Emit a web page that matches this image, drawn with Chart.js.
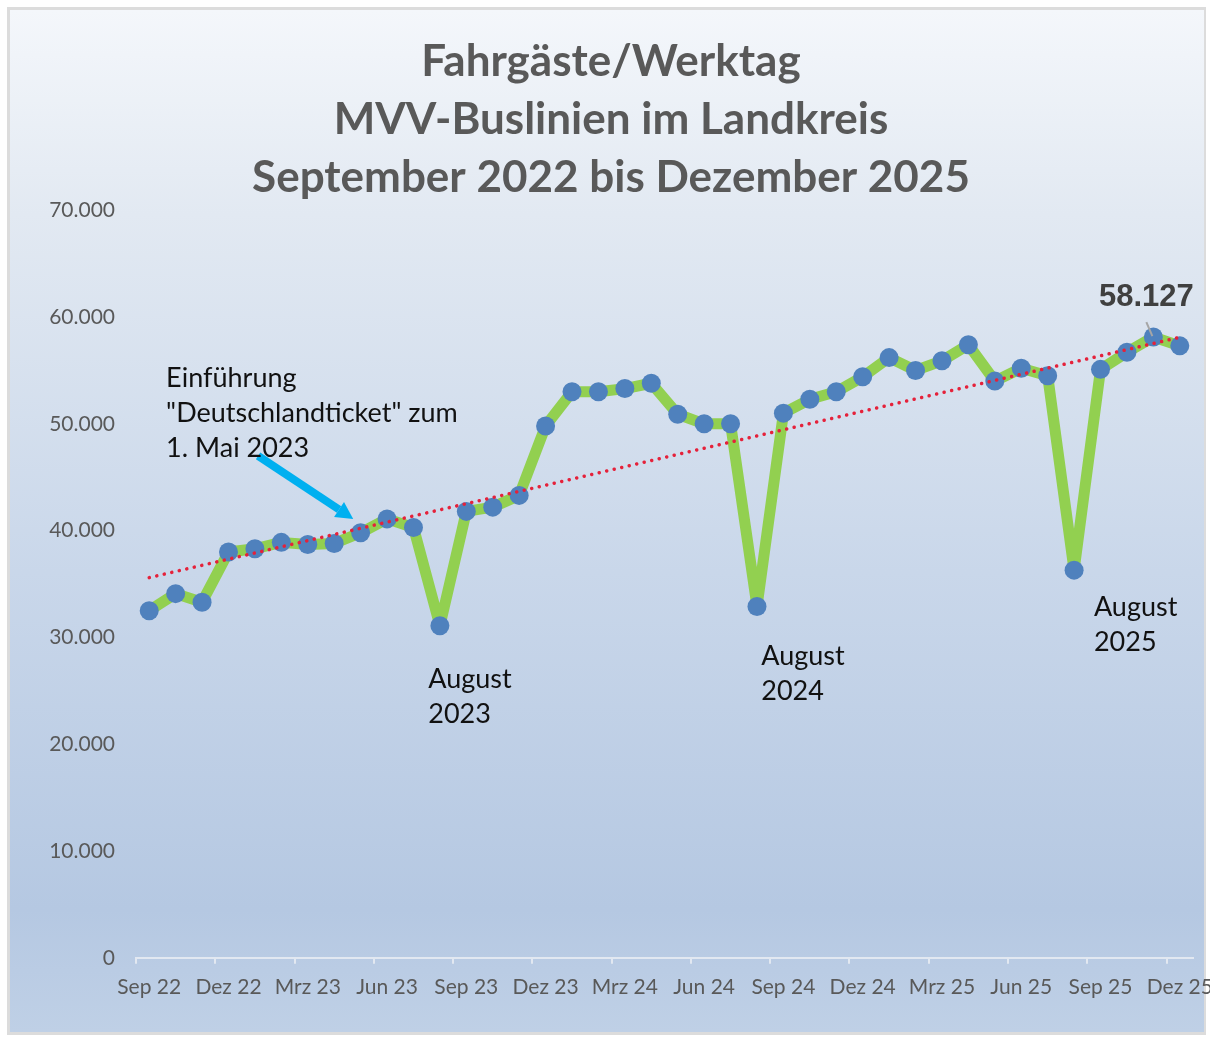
<!DOCTYPE html>
<html>
<head>
<meta charset="utf-8">
<script src="https://cdn.jsdelivr.net/npm/chart.js@4.4.1/dist/chart.umd.min.js"></script>
<style>
  html, body { margin: 0; padding: 0; background: #fff; }
</style>
</head>
<body>
<canvas id="busChart" width="1210" height="1039"></canvas>
<script>
// Monate Sep 22 - Dez 25
var months = [
  "Sep 22", "Okt 22", "Nov 22", "Dez 22", "Jan 23", "Feb 23", "Mrz 23", "Apr 23", "Mai 23", "Jun 23", "Jul 23", "Aug 23",
  "Sep 23", "Okt 23", "Nov 23", "Dez 23", "Jan 24", "Feb 24", "Mrz 24", "Apr 24", "Mai 24", "Jun 24", "Jul 24", "Aug 24",
  "Sep 24", "Okt 24", "Nov 24", "Dez 24", "Jan 25", "Feb 25", "Mrz 25", "Apr 25", "Mai 25", "Jun 25", "Jul 25", "Aug 25",
  "Sep 25", "Okt 25", "Nov 25", "Dez 25"
];

// Fahrgäste pro Werktag
var passengers = [
  32500, 34100, 33300, 38000, 38300, 38900, 38700, 38800, 39800, 41100, 40300, 31100,
  41800, 42200, 43300, 49800, 53000, 53000, 53300, 53800, 50900, 50000, 50000, 32900,
  51000, 52300, 53000, 54400, 56200, 55000, 55900, 57400, 54000, 55200, 54500, 36300,
  55100, 56700, 58127, 57300
];

// Trendlinie: Start- und Endwert
var trendEnds = [35600, 58100];

var yTicks = [0, 10000, 20000, 30000, 40000, 50000, 60000, 70000];

var titleLines = ["Fahrgäste/Werktag", "MVV-Buslinien im Landkreis", "September 2022 bis Dezember 2025"];

var notes = [
  { lines: ["Einführung", "\"Deutschlandticket\" zum", "1. Mai 2023"], idx: 0.64, val: 54300 },
  { lines: ["August", "2023"], idx: 10.56, val: 26100 },
  { lines: ["August", "2024"], idx: 23.16, val: 28200 },
  { lines: ["August", "2025"], idx: 35.75, val: 32800 }
];
// Pfeil (Index / Wert)
var arrowFrom = [4.12, 47000];
var arrowTo = [7.72, 41100];
var labelIndex = 38;

var trendData = passengers.map(function (v, i) {
  if (i === 0) return trendEnds[0];
  if (i === passengers.length - 1) return trendEnds[1];
  return null;
});

function fmt(v) {
  return String(v).replace(/\B(?=(\d{3})+(?!\d))/g, ".");
}

Chart.defaults.font.family = "Lato";

var backgroundPlugin = {
  id: "panelBg",
  beforeDraw: function (chart) {
    var c = chart.ctx;
    c.save();
    c.fillStyle = "#ffffff";
    c.fillRect(0, 0, chart.width, chart.height);
    // Rahmen
    c.fillStyle = "#dcdcdc";
    c.fillRect(7, 7, 1199, 1028);
    var g = c.createLinearGradient(0, 10, 0, 1032);
    g.addColorStop(0, "#f4f7fb");
    g.addColorStop(0.2, "#e2e9f2");
    g.addColorStop(0.55, "#c9d7ea");
    g.addColorStop(0.88, "#b5c8e2");
    g.addColorStop(1, "#bfd0e6");
    c.fillStyle = g;
    c.fillRect(10, 10, 1194, 1022);
    c.restore();
  }
};

var notesPlugin = {
  id: "notes",
  afterDatasetsDraw: function (chart) {
    var c = chart.ctx;
    var xs = chart.scales.x, ys = chart.scales.y;
    var step = xs.getPixelForValue(1) - xs.getPixelForValue(0);
    function px(i) { return xs.getPixelForValue(0) + i * step; }

    c.save();
    // Pfeil
    var x1 = px(arrowFrom[0]), y1 = ys.getPixelForValue(arrowFrom[1]);
    var x2 = px(arrowTo[0]), y2 = ys.getPixelForValue(arrowTo[1]);
    var ang = Math.atan2(y2 - y1, x2 - x1);
    var head = 17;
    c.strokeStyle = "#00b0f0";
    c.fillStyle = "#00b0f0";
    c.lineWidth = 8;
    c.beginPath();
    c.moveTo(x1, y1);
    c.lineTo(x2 - head * Math.cos(ang), y2 - head * Math.sin(ang));
    c.stroke();
    c.beginPath();
    c.moveTo(x2, y2);
    c.lineTo(x2 - head * Math.cos(ang) + 9 * Math.sin(ang), y2 - head * Math.sin(ang) - 9 * Math.cos(ang));
    c.lineTo(x2 - head * Math.cos(ang) - 9 * Math.sin(ang), y2 - head * Math.sin(ang) + 9 * Math.cos(ang));
    c.closePath();
    c.fill();

    // Textnotizen
    c.fillStyle = "#111111";
    c.font = "27px Lato";
    c.textAlign = "left";
    c.textBaseline = "middle";
    notes.forEach(function (n) {
      var x = px(n.idx), y = ys.getPixelForValue(n.val);
      n.lines.forEach(function (t, k) {
        c.fillText(t, x, y + k * 35);
      });
    });

    // Datenbeschriftung
    var pt = chart.getDatasetMeta(1).data[labelIndex];
    c.strokeStyle = "#a6a6a6";
    c.lineWidth = 2;
    c.beginPath();
    c.moveTo(pt.x - 7, pt.y - 15);
    c.lineTo(pt.x - 1, pt.y - 1);
    c.stroke();
    c.fillStyle = "#404040";
    c.font = "bold 31px 'Liberation Sans'";
    c.textAlign = "center";
    c.fillText(fmt(passengers[labelIndex]), pt.x - 7, pt.y - 40);
    c.restore();
  }
};

var ctx = document.getElementById("busChart").getContext("2d");
var busChart = new Chart(ctx, {
  type: "line",
  data: {
    labels: months,
    datasets: [{
      label: "Trend",
      data: trendData,
      spanGaps: true,
      borderColor: "#e5213a",
      borderWidth: 3.5,
      borderDash: [0.1, 7.6],
      borderCapStyle: "round",
      pointRadius: 0,
      fill: false,
      order: 0
    }, {
      label: "Fahrgäste",
      data: passengers,
      borderColor: "#92d050",
      borderWidth: 11,
      borderJoinStyle: "round",
      tension: 0,
      pointRadius: 9.5,
      pointBackgroundColor: "#4f81bd",
      pointBorderWidth: 0,
      fill: false,
      order: 1
    }]
  },
  options: {
    responsive: false,
    animation: false,
    devicePixelRatio: 1,
    layout: { padding: { top: 33, left: 12, right: 0, bottom: 28 } },
    plugins: {
      legend: { display: false },
      tooltip: { enabled: false },
      title: {
        display: true,
        text: titleLines,
        color: "#595959",
        font: { family: "Lato", size: 44, weight: "bold", lineHeight: 1.32 },
        padding: { top: 0, bottom: 3 }
      }
    },
    scales: {
      x: {
        offset: true,
        grid: {
          display: true,
          drawOnChartArea: false,
          drawTicks: true,
          tickLength: 6,
          offset: true,
          lineWidth: 2,
          color: function (c) { return (c.index !== undefined && c.index % 3 === 0) ? "#e2e8f1" : "rgba(0,0,0,0)"; }
        },
        border: { display: true, color: "#e2e8f1", width: 2 },
        ticks: {
          autoSkip: false,
          maxRotation: 0,
          padding: 11,
          color: "#595959",
          font: { size: 21 },
          callback: function (v, i) { return i % 3 === 0 ? months[i] : ""; }
        },
        afterFit: function (s) { s.paddingLeft = 0; s.paddingRight = 17; }
      },
      y: {
        min: 0,
        max: 70000,
        grid: { display: false, drawTicks: false },
        border: { display: false },
        afterBuildTicks: function (s) { s.ticks = yTicks.map(function (v) { return { value: v }; }); },
        ticks: {
          padding: 21,
          color: "#595959",
          font: { size: 21 },
          callback: function (v) { return fmt(v); }
        },
        afterFit: function (s) { s.width = 124; }
      }
    }
  },
  plugins: [backgroundPlugin, notesPlugin]
});
</script>
</body>
</html>
